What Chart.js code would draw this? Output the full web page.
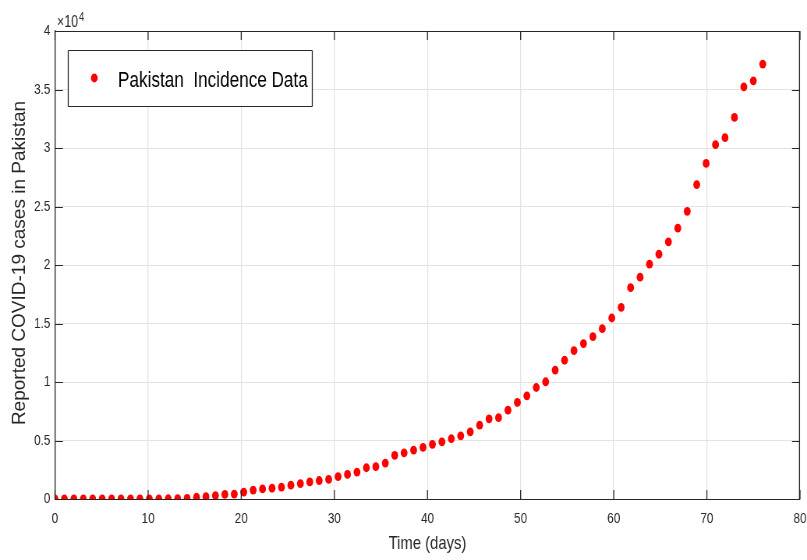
<!DOCTYPE html>
<html>
<head>
<meta charset="utf-8">
<script src="https://cdn.jsdelivr.net/npm/chart.js@4/dist/chart.umd.min.js"></script>
<style>
html,body{margin:0;padding:0;background:#fff;overflow:hidden;}
#wrap{width:807px;height:560px;position:relative;}
#c{display:block;}
</style>
</head>
<body>
<div id="wrap"><canvas id="c" width="1035" height="560" style="width:807px;height:560px;"></canvas></div>
<script>
// ---- data ----
const seriesLabel = 'Pakistan  Incidence Data';
const xTitle = 'Time (days)';
const yTitle = 'Reported COVID-19 cases in Pakistan';
const yExponentBase = '\u00d710';
const yExponent = '4';
const days = [0,1.01,2.03,3.04,4.05,5.07,6.08,7.09,8.11,9.12,10.13,11.15,12.16,13.17,14.19,15.2,
  16.21,17.23,18.24,19.25,20.27,21.28,22.29,23.31,24.32,25.33,26.35,27.36,28.37,29.39,30.4,
  31.41,32.43,33.44,34.45,35.47,36.48,37.49,38.51,39.52,40.53,41.55,42.56,43.57,44.59,45.6,
  46.61,47.63,48.64,49.65,50.67,51.68,52.69,53.71,54.72,55.73,56.75,57.76,58.77,59.79,60.8,
  61.81,62.83,63.84,64.85,65.87,66.88,67.89,68.91,69.92,70.93,71.95,72.96,73.97,74.99,76];
const cases = [2,2,2,4,4,4,5,5,6,6,16,19,20,30,50,150,
  200,290,390,420,590,760,860,920,1010,1180,1320,1460,1580,1670,1920,
  2100,2300,2670,2760,3070,3730,3950,4180,4410,4670,4890,5150,5400,5740,6310,
  6850,6950,7590,8250,8820,9530,10020,11020,11860,12680,13280,13880,14560,15470,16380,
  18060,18960,20070,20920,21980,23150,24590,26870,28680,30280,30880,32610,35220,35740,37170];
const xTicks = [0,10,20,30,40,50,60,70,80];
const yTicks = [0,5000,10000,15000,20000,25000,30000,35000,40000];
const yTickLabels = ['0','0.5','1','1.5','2','2.5','3','3.5','4'];

// ---- styling ----
// The figure is drawn on a wider backing canvas and shown squeezed horizontally,
// as the reference image is (its round markers appear as tall ellipses).
const SX = 1035 / 807;
const FONT = '"Liberation Sans", Arial, Helvetica, sans-serif';
const AX = '#262626';
const GRID = '#e3e3e3';

const framePlugin = {
  id: 'frame',
  afterDatasetsDraw(chart){
    const ctx = chart.ctx;
    const a = chart.chartArea;
    const xs = chart.scales.x, ys = chart.scales.y;
    ctx.save();
    ctx.strokeStyle = AX;
    // horizontal strokes
    ctx.lineWidth = 1;
    ctx.beginPath();
    ctx.moveTo(a.left, a.top+0.5); ctx.lineTo(a.right, a.top+0.5);
    yTicks.forEach(v=>{
      const py = Math.round(ys.getPixelForValue(v))+0.5;
      ctx.moveTo(a.left, py); ctx.lineTo(a.left+8*SX, py);
      ctx.moveTo(a.right, py); ctx.lineTo(a.right-8*SX, py);
    });
    ctx.stroke();
    // vertical strokes
    ctx.lineWidth = SX;
    ctx.beginPath();
    ctx.moveTo(a.right-SX/2, a.top); ctx.lineTo(a.right-SX/2, a.bottom);
    xTicks.forEach(v=>{
      const px = xs.getPixelForValue(v);
      ctx.moveTo(px, a.bottom); ctx.lineTo(px, a.bottom-9);
      ctx.moveTo(px, a.top); ctx.lineTo(px, a.top+9);
    });
    ctx.stroke();

    // y axis title (rotated; un-squeezed so it keeps normal glyph proportions)
    ctx.save();
    ctx.fillStyle = AX;
    ctx.translate(20*SX, (a.top + a.bottom)/2 - 2);
    ctx.scale(SX, 1);
    ctx.rotate(-Math.PI/2);
    ctx.textAlign = 'center';
    ctx.textBaseline = 'middle';
    ctx.font = '19px ' + FONT;
    ctx.fillText(yTitle, 0, 0);
    ctx.restore();

    // exponent label
    ctx.fillStyle = AX;
    ctx.textBaseline = 'alphabetic';
    ctx.textAlign = 'left';
    ctx.font = '16px ' + FONT;
    ctx.fillText(yExponentBase, 57*SX, 26.7);
    const w = ctx.measureText(yExponentBase).width;
    ctx.font = '12px ' + FONT;
    ctx.fillText(yExponent, 57*SX + w + 1, 20.5);

    // legend
    const lx = Math.round(67.7*SX)+0.5, ly = 50.5, lw = Math.round(244*SX), lh = 56;
    ctx.fillStyle = '#ffffff';
    ctx.fillRect(lx, ly, lw, lh);
    ctx.strokeStyle = AX;
    ctx.lineWidth = 1;
    ctx.beginPath();
    ctx.moveTo(lx, ly); ctx.lineTo(lx+lw, ly);
    ctx.moveTo(lx, ly+lh); ctx.lineTo(lx+lw, ly+lh);
    ctx.stroke();
    ctx.lineWidth = SX;
    ctx.beginPath();
    ctx.moveTo(lx, ly); ctx.lineTo(lx, ly+lh);
    ctx.moveTo(lx+lw, ly); ctx.lineTo(lx+lw, ly+lh);
    ctx.stroke();
    ctx.fillStyle = '#ff0000';
    ctx.beginPath();
    ctx.arc(94.3*SX, 78, 4.4, 0, Math.PI*2);
    ctx.fill();
    ctx.fillStyle = '#000000';
    ctx.font = '22px ' + FONT;
    ctx.fillText(chart.data.datasets[0].label, 118*SX, 86.7);
    ctx.restore();
  }
};

new Chart(document.getElementById('c'), {
  type: 'scatter',
  data: {
    datasets: [{
      label: seriesLabel,
      data: days.map((d,i)=>({x:d, y:cases[i]})),
      pointStyle: 'circle',
      pointRadius: 4.4,
      pointHoverRadius: 4.4,
      pointBorderWidth: 0,
      backgroundColor: '#ff0000',
      borderColor: '#ff0000',
      showLine: false
    }]
  },
  options: {
    responsive: false,
    animation: false,
    devicePixelRatio: 1,
    events: [],
    layout: { padding: { left: 0, right: 9, top: 31, bottom: 5 } },
    plugins: {
      legend: { display: false },
      tooltip: { enabled: false }
    },
    scales: {
      x: {
        type: 'linear',
        min: 0, max: 80,
        afterBuildTicks(s){ s.ticks = xTicks.map(v=>({value:v})); },
        afterFit(s){ s.height = 56; s.paddingLeft = 0; s.paddingRight = 0; },
        grid: { color: GRID, drawTicks: false, lineWidth: SX },
        border: { display: true, color: AX, width: 1 },
        ticks: { color: AX, padding: 11, font: { family: FONT, size: 15 }, maxRotation: 0,
                 callback: v => String(v) },
        title: { display: true, text: xTitle, color: AX, padding: 0,
                 font: { family: FONT, size: 19 } }
      },
      y: {
        type: 'linear',
        min: 0, max: 40000,
        afterBuildTicks(s){ s.ticks = yTicks.map(v=>({value:v})); },
        afterFit(s){ s.width = 70.5; s.paddingTop = 0; s.paddingBottom = 0; },
        grid: { color: GRID, drawTicks: false, lineWidth: 1 },
        border: { display: true, color: AX, width: SX },
        ticks: { color: AX, padding: 6, font: { family: FONT, size: 15 },
                 callback: (v) => yTickLabels[yTicks.indexOf(v)] },
        title: { display: false, text: yTitle }
      }
    }
  },
  plugins: [framePlugin]
});
</script>
</body>
</html>
